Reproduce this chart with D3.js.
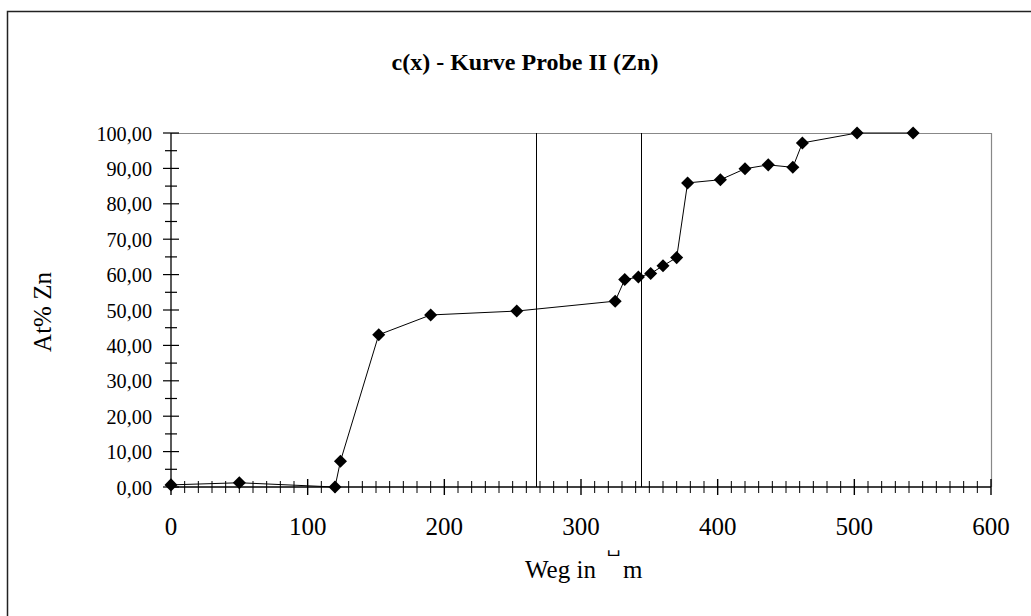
<!DOCTYPE html>
<html>
<head>
<meta charset="utf-8">
<script src="https://cdn.jsdelivr.net/npm/d3@7"></script>
<style>
  body { margin: 0; background: #fff; }
  text { font-family: "Liberation Serif", "DejaVu Serif", serif; fill: #000; }
</style>
</head>
<body>
<div id="chart"></div>
<script>
// Messpunkte
var wegX = [0, 50, 120, 124, 152, 190, 253, 325, 332, 342, 351, 360, 370, 378, 402, 420, 437, 455, 462, 502, 543];
var atZn = [0.6, 1.2, 0.0, 7.3, 43.0, 48.6, 49.7, 52.5, 58.6, 59.3, 60.3, 62.5, 64.8, 85.9, 86.8, 89.9, 91.0, 90.3, 97.2, 100, 100];
var markLines = [267, 344];
var xTicks = [0, 100, 200, 300, 400, 500, 600];
var yTicks = [0, 10, 20, 30, 40, 50, 60, 70, 80, 90, 100];

var W = 1031, H = 616;
var margin = { top: 133, right: 40, bottom: 129, left: 171 },
    width = 991 - margin.left,
    height = 487 - margin.top;

var svg = d3.select("#chart")
    .append("svg")
    .attr("width", W)
    .attr("height", H);

// outer frame
svg.append("path")
    .attr("d", "M7.5," + H + "V11.5H" + W)
    .attr("fill", "none")
    .attr("stroke", "#222")
    .attr("stroke-width", 1.5);

svg.append("text")
    .attr("x", 525)
    .attr("y", 70)
    .attr("text-anchor", "middle")
    .style("font-size", "24px")
    .style("font-weight", "bold")
    .text("c(x) - Kurve Probe II (Zn)");

var g = svg.append("g")
    .attr("transform", "translate(" + margin.left + "," + margin.top + ")");

var x = d3.scaleLinear().domain([0, 600]).range([0, width]);
var y = d3.scaleLinear().domain([0, 100]).range([height, 0]);

// plot frame top/right (grey)
g.append("path")
    .attr("d", "M0,0.5H" + (width + 0.5) + "V" + height)
    .attr("fill", "none")
    .attr("stroke", "#888")
    .attr("stroke-width", 1.2);

// vertical marker lines
g.selectAll(".vline")
    .data(markLines)
    .enter().append("line")
    .attr("x1", function (d) { return Math.round(x(d)) + 0.5 })
    .attr("x2", function (d) { return Math.round(x(d)) + 0.5 })
    .attr("y1", y(100))
    .attr("y2", y(0))
    .attr("stroke", "#000")
    .attr("stroke-width", 1);

// x axis: minor ticks every 10, major every 100, crossing the axis
var xAx = g.append("g").attr("transform", "translate(0," + height + ")");
xAx.append("line")
    .attr("x1", 0).attr("x2", width)
    .attr("stroke", "#000").attr("stroke-width", 1.3);
xAx.selectAll(".xminor")
    .data(d3.range(0, 601, 10))
    .enter().append("line")
    .attr("x1", function (d) { return x(d) })
    .attr("x2", function (d) { return x(d) })
    .attr("y1", function (d) { return d % 100 == 0 ? -8 : -6 })
    .attr("y2", function (d) { return d % 100 == 0 ? 8 : 6 })
    .attr("stroke", "#000")
    .attr("stroke-width", function (d) { return d % 100 == 0 ? 1.4 : 1 });
xAx.selectAll(".xlab")
    .data(xTicks)
    .enter().append("text")
    .attr("x", function (d) { return x(d) })
    .attr("y", 48)
    .attr("text-anchor", "middle")
    .style("font-size", "25px")
    .text(function (d) { return d });

// y axis: minor ticks every 5
var yAx = g.append("g");
yAx.append("line")
    .attr("y1", 0).attr("y2", height)
    .attr("stroke", "#000").attr("stroke-width", 1.3);
yAx.selectAll(".yminor")
    .data(d3.range(0, 101, 5))
    .enter().append("line")
    .attr("y1", function (d) { return y(d) })
    .attr("y2", function (d) { return y(d) })
    .attr("x1", function (d) { return d % 10 == 0 ? -8 : -6 })
    .attr("x2", function (d) { return d % 10 == 0 ? 8 : 6 })
    .attr("stroke", "#000")
    .attr("stroke-width", 1.2);
yAx.selectAll(".ylab")
    .data(yTicks)
    .enter().append("g")
    .attr("transform", function (d) { return "translate(-19," + (y(d) + 7.5) + ")" })
    .append("text")
    .attr("transform", "scale(0.92,1)")
    .attr("text-anchor", "end")
    .style("font-size", "22px")
    .text(function (d) { return d3.format(".2f")(d).replace(".", ",") });

// axis titles
svg.append("text")
    .attr("transform", "translate(51,312) rotate(-90)")
    .attr("text-anchor", "middle")
    .style("font-size", "25px")
    .text("At% Zn");

var xt = svg.append("text")
    .attr("y", 578)
    .style("font-size", "25px");
xt.append("tspan").attr("x", 525).text("Weg in");
xt.append("tspan").attr("x", 607).attr("y", 552).style("font-size", "18px").text("\u2423");
xt.append("tspan").attr("x", 623).attr("y", 578).text("m");

// data line
var pts = wegX.map(function (d, i) { return [d, atZn[i]] });
g.append("path")
    .datum(pts)
    .attr("d", d3.line()
        .x(function (d) { return x(d[0]) })
        .y(function (d) { return y(d[1]) }))
    .attr("fill", "none")
    .attr("stroke", "#000")
    .attr("stroke-width", 1);

g.selectAll(".pt")
    .data(pts)
    .enter().append("path")
    .attr("d", d3.symbol().type(d3.symbolSquare).size(85))
    .attr("transform", function (d) { return "translate(" + x(d[0]) + "," + y(d[1]) + ") rotate(45)" })
    .attr("fill", "#000");
</script>
</body>
</html>
